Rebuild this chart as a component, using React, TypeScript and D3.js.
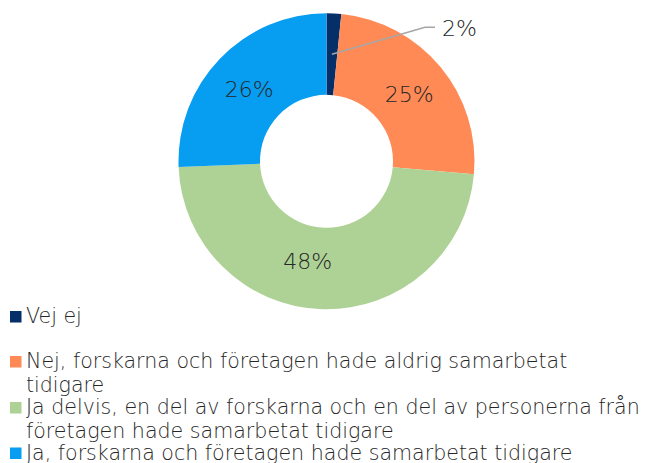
import React from "react";
import * as d3 from "d3";

const categories = [
  "Vej ej",
  "Nej, forskarna och företagen hade aldrig samarbetat tidigare",
  "Ja delvis, en del av forskarna och en del av personerna från företagen hade samarbetat tidigare",
  "Ja, forskarna och företagen hade samarbetat tidigare",
];
const values = [1.6, 24.8, 48.0, 25.6];
const labels = ["2%", "25%", "48%", "26%"];
const colors = ["#062f6a", "#ff8a56", "#aed296", "#079df0"];
const legendLines = [
  ["Vej ej"],
  ["Nej, forskarna och företagen hade aldrig samarbetat", "tidigare"],
  ["Ja delvis, en del av forskarna och en del av personerna från", "företagen hade samarbetat tidigare"],
  ["Ja, forskarna och företagen hade samarbetat tidigare"],
];

export default function App() {
  const W = 650, H = 463;
  const cx = 326.5, cy = 161.3, rO = 148, rI = 66.5;
  const legendBaselines = [323, 368, 414, 459.5];
  const lineStep = 23.5;
  const labelNudge: [number, number][] = [[0, 0], [0, 1], [-16, -8], [0, 2]];
  const pie = d3.pie<number>().sort(null).value((d) => d);
  const arcs = pie(values);
  const arc = d3.arc<d3.PieArcDatum<number>>().innerRadius(rI).outerRadius(rO);
  const labelArc = d3.arc<d3.PieArcDatum<number>>().innerRadius((rI + rO) / 2).outerRadius((rI + rO) / 2);
  const font = "'DejaVu Sans', sans-serif";
  const textColor = "#262626";
  return (
    <svg width={W} height={H} style={{ position: "absolute", left: 0, top: 0 }}>
      <g transform={`translate(${cx},${cy})`}>
        {arcs.map((a, i) => (
          <path key={i} d={arc(a) || ""} fill={colors[i]} />
        ))}
        {arcs.map((a, i) => {
          if (i === 0) {
            const [lx, ly] = labelArc.centroid(a);
            return (
              <g key={i}>
                <polyline
                  points={`${lx},${ly} ${425 - cx},${27.3 - cy} ${435 - cx},${27.3 - cy}`}
                  fill="none"
                  stroke="#a6a6a6"
                  strokeWidth={1.5}
                />
                <text x={442 - cx} y={36 - cy} fontSize={22} fontFamily={font} fontWeight={200} fill={textColor}>
                  {labels[i]}
                </text>
              </g>
            );
          }
          const [x, y] = labelArc.centroid(a);
          return (
            <text key={i} x={x + labelNudge[i][0]} y={y + labelNudge[i][1]} dy="0.37em" textAnchor="middle" fontSize={22} fontFamily={font} fontWeight={200} fill={textColor}>
              {labels[i]}
            </text>
          );
        })}
      </g>
      {categories.map((c, i) => (
        <g key={c}>
          <rect x={10} y={legendBaselines[i] - 12} width={11.5} height={11.5} fill={colors[i]} />
          {legendLines[i].map((ln, j) => (
            <text key={j} x={26} y={legendBaselines[i] + j * lineStep} fontSize={20.6} fontFamily={font} fontWeight={200} fill={textColor}>
              {ln}
            </text>
          ))}
        </g>
      ))}
    </svg>
  );
}
